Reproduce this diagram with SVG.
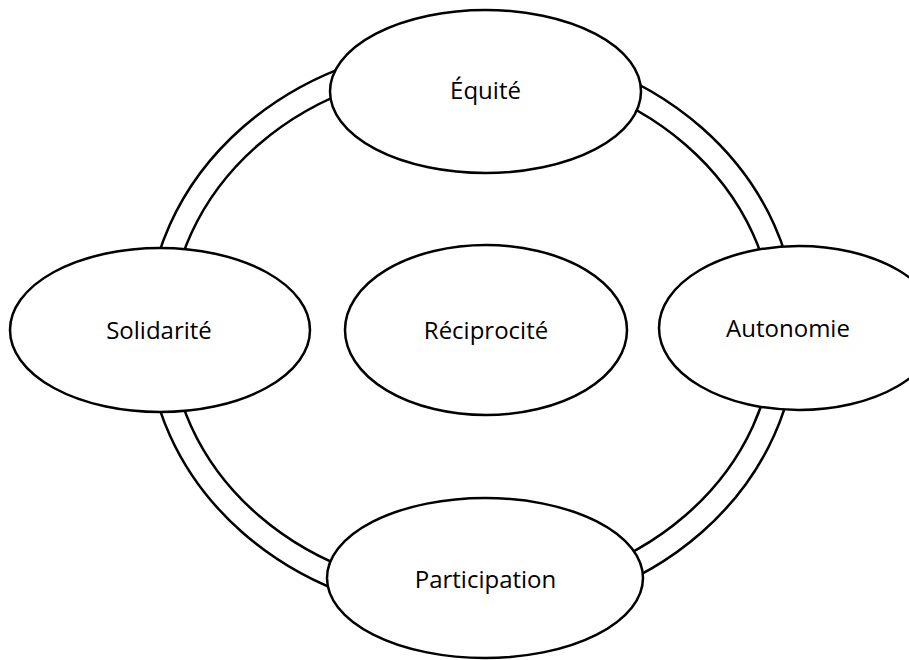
<svg xmlns="http://www.w3.org/2000/svg" width="909" height="660" viewBox="0 0 909 660">
<style>
.ring{fill:none;stroke:#000;stroke-width:2.5}
.node{fill:#fff;stroke:#000;stroke-width:2.5}
.lbl{font-family:"Open Sans","Noto Sans","Liberation Sans",sans-serif;font-size:24px;fill:#000;text-anchor:middle}
</style>
<rect width="909" height="660" fill="#fff"/>
<g id="connectors">
<ellipse class="ring" cx="472" cy="330" rx="325" ry="286"/>
<ellipse class="ring" cx="472" cy="330" rx="302" ry="262"/>
</g>
<g id="equite">
<ellipse class="node" cx="485.5" cy="91.5" rx="155.5" ry="81.5"/>
<text class="lbl" x="485.5" y="99">Équité</text>
</g>
<g id="solidarite">
<ellipse class="node" cx="160" cy="330" rx="150" ry="82"/>
<text class="lbl" x="159" y="339">Solidarité</text>
</g>
<g id="reciprocite">
<ellipse class="node" cx="486" cy="330" rx="141" ry="85"/>
<text class="lbl" x="486" y="339">Réciprocité</text>
</g>
<g id="autonomie">
<ellipse class="node" cx="799" cy="328" rx="140" ry="82"/>
<text class="lbl" x="788" y="337">Autonomie</text>
</g>
<g id="participation">
<ellipse class="node" cx="485" cy="578" rx="158" ry="80"/>
<text class="lbl" x="485.5" y="588">Participation</text>
</g>
</svg>
